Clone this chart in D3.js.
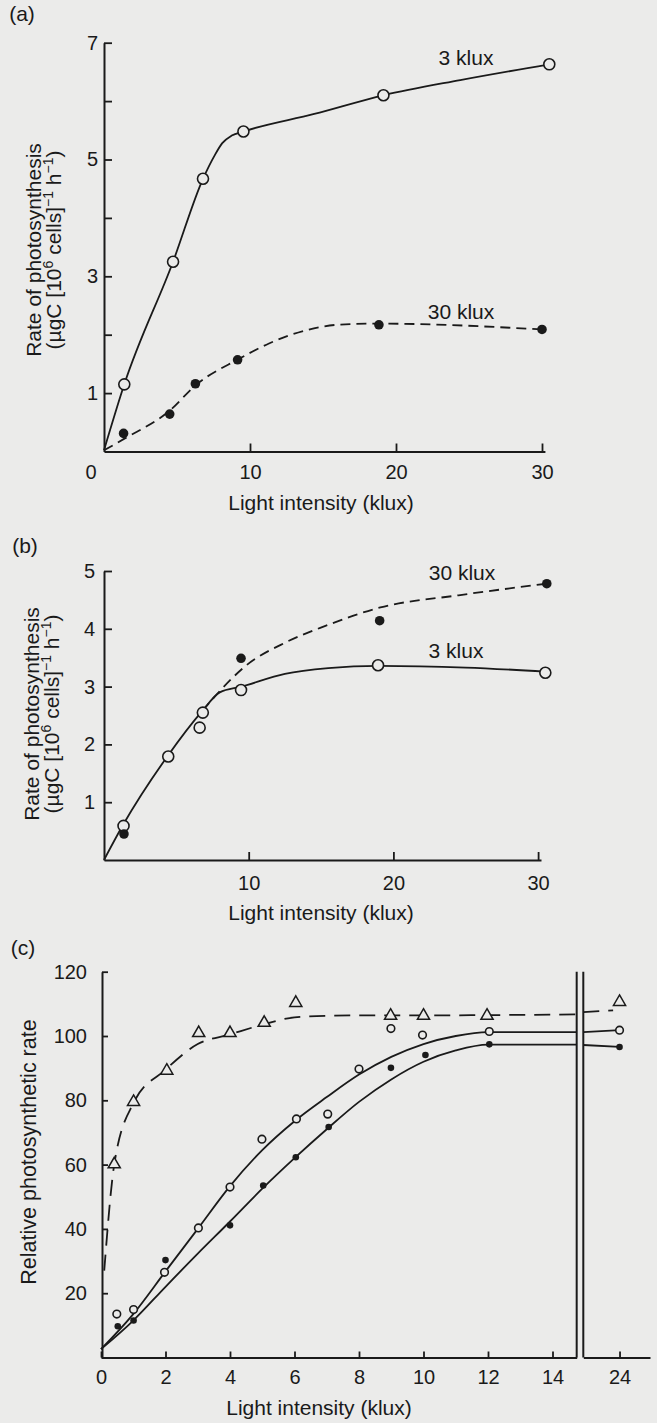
<!DOCTYPE html>
<html>
<head>
<meta charset="utf-8">
<script src="https://cdn.jsdelivr.net/npm/d3@7"></script>
<style>
  body { margin: 0; background: #ebebea; }
  text { font-family: "Liberation Sans", Arial, sans-serif; fill: #1a1a1a; }
</style>
</head>
<body>
<svg id="graph" width="657" height="1423"></svg>
<script>
/*******************************************************************************************/
// Data

// (a) rate of photosynthesis vs light, cells grown at 3 klux and 30 klux
var a_open_x = [1.39, 4.73, 6.78, 9.55, 19.14, 30.5];
var a_open_y = [1.15, 3.25, 4.67, 5.48, 6.10, 6.63];
var a_fill_x = [1.34, 4.50, 6.26, 9.15, 18.83, 30.0];
var a_fill_y = [0.31, 0.64, 1.16, 1.57, 2.17, 2.09];
var a_fit3_x = [0, 1.39, 4.73, 6.78, 7.6, 8.1, 8.75, 9.55, 14.4, 19.14, 24.4, 30.5];
var a_fit3_y = [0.02, 1.15, 3.25, 4.67, 5.08, 5.28, 5.41, 5.48, 5.78, 6.10, 6.36, 6.63];
var a_fit30_x = [0, 1.4, 4.5, 6.3, 9.2, 11.3, 13.9, 16, 18.8, 30];
var a_fit30_y = [0.02, 0.22, 0.70, 1.14, 1.58, 1.85, 2.08, 2.17, 2.19, 2.09];
var a_yticks = [1, 2, 3, 4, 5, 6, 7], a_ylabels = [1, 3, 5, 7];
var a_xticks = [10, 20, 30];

// (b)
var b_open_x = [1.35, 4.44, 6.61, 6.83, 9.47, 18.94, 30.5];
var b_open_y = [0.59, 1.79, 2.29, 2.55, 2.94, 3.37, 3.24];
var b_fill_x = [1.38, 9.47, 19.05, 30.6];
var b_fill_y = [0.45, 3.49, 4.14, 4.78];
var b_fit3_x = [0, 1.3, 4.4, 6.8, 8.0, 9.5, 12.5, 15.5, 19, 25, 30.5];
var b_fit3_y = [0, 0.6, 1.8, 2.58, 2.9, 3.0, 3.22, 3.32, 3.36, 3.33, 3.26];
var b_fit30_x = [6.8, 8.1, 9.7, 12.6, 15.3, 19.1, 24.5, 30.6];
var b_fit30_y = [2.58, 2.95, 3.34, 3.77, 4.05, 4.37, 4.58, 4.78];
var b_yticks = [1, 2, 3, 4, 5];
var b_xticks = [10, 20, 30];

// (c) relative photosynthetic rate, axis broken between 14 and 24 klux
var c_tri_x = [0.41, 1.01, 2.04, 3.03, 4.0, 5.06, 6.04, 8.98, 10.0, 11.97, 24];
var c_tri_y = [60.1, 79.5, 89.2, 100.9, 100.9, 104.1, 110.3, 106.3, 106.3, 106.3, 110.6];
var c_open_x = [0.49, 1.01, 1.97, 3.02, 4.0, 4.99, 6.06, 7.03, 8.0, 8.99, 9.97, 12.04, 24];
var c_open_y = [13.5, 14.9, 26.5, 40.3, 53.0, 67.9, 74.2, 75.7, 89.7, 102.3, 100.3, 101.4, 101.8];
var c_fill_x = [0.52, 1.01, 2.0, 4.0, 5.03, 6.04, 7.06, 8.99, 10.06, 12.04, 24];
var c_fill_y = [9.7, 11.5, 30.3, 41.1, 53.5, 62.3, 71.7, 90.1, 94.1, 97.4, 96.6];
var c_fitT_x = [0.1, 0.41, 1.0, 2.0, 3.0, 4.0, 5.0, 6.0, 7.0, 8, 10, 12, 14.75];
var c_fitT_y = [27, 60, 79, 89.5, 97.5, 100.5, 103.5, 105.8, 106.3, 106.4, 106.4, 106.5, 106.7];
var c_fitO_x = [0, 1, 2, 3, 4, 5, 6, 7, 8, 9, 10, 11, 12, 14.75];
var c_fitO_y = [2.6, 13.5, 26.8, 40, 53.3, 64.5, 73.5, 81, 88, 93.5, 97.5, 100, 101.2, 101.2];
var c_fitF_x = [0, 1, 2, 3, 4, 5, 6, 7, 8, 9, 10, 11, 12, 14.75];
var c_fitF_y = [2.6, 11.5, 22, 32.3, 42.3, 52.5, 62, 71, 79.5, 86.5, 92, 95.5, 97.3, 97.3];
var c_fitT_rx = [22.87, 23.8], c_fitT_ry = [107.4, 108];
var c_fitO_rx = [22.87, 24], c_fitO_ry = [101.2, 101.8];
var c_fitF_rx = [22.87, 24], c_fitF_ry = [97.2, 96.6];
var c_yticks = [20, 40, 60, 80, 100, 120];
var c_xticks = [0, 2, 4, 6, 8, 10, 12, 14], c_xticks_r = [24];

/*******************************************************************************************/

var ink = '#1a1a1a', paper = '#ebebea', font = '"Liberation Sans", Arial, sans-serif';
var svg = d3.select('#graph');

function styleAxis(g){
  g.attr('font-size', 20).attr('font-family', font).style('color', ink);
  g.select('.domain').attr('stroke-width', 2);
  g.selectAll('.tick line').attr('stroke-width', 1.8);
  g.selectAll('.tick text').attr('fill', ink);
}

function yAxis(scale, x, ticks, labels, pad, size){
  var g = svg.append('g').attr('transform', 'translate(' +x+ ',0)')
    .call(d3.axisLeft(scale).tickValues(ticks).tickSize(-size).tickSizeOuter(0).tickPadding(pad)
      .tickFormat(function(d){ return labels.indexOf(d) >= 0 ? d : ''; }));
  styleAxis(g);
}

function xAxis(scale, y, ticks, pad, size){
  var g = svg.append('g').attr('transform', 'translate(0,' +y+ ')')
    .call(d3.axisBottom(scale).tickValues(ticks).tickSize(-size).tickSizeOuter(0).tickPadding(pad)
      .tickFormat(d3.format('d')));
  styleAxis(g);
}

function fit(xs, ys, sx, sy, dash, width){
  var line = d3.line().x(function(d){ return sx(d[0]); }).y(function(d){ return sy(d[1]); }).curve(d3.curveMonotoneX);
  svg.append('path').attr('d', line(d3.zip(xs, ys)))
    .attr('fill', 'none').attr('stroke', ink).attr('stroke-width', width || 1.8)
    .attr('stroke-dasharray', dash || null);
}

function dots(xs, ys, sx, sy, r, open){
  svg.append('g').selectAll('circle').data(d3.zip(xs, ys)).join('circle')
    .attr('cx', function(d){ return sx(d[0]); }).attr('cy', function(d){ return sy(d[1]); }).attr('r', r)
    .attr('fill', open ? paper : ink).attr('stroke', ink).attr('stroke-width', open ? 1.6 : 0);
}

function label(x, y, str, size, anchor){
  return svg.append('text').attr('x', x).attr('y', y).attr('font-size', size || 21)
    .attr('text-anchor', anchor || 'middle').text(str);
}

function rateTitle(cx, cy){
  var t = svg.append('text').attr('transform', 'translate(' +cx+ ',' +cy+ ') rotate(-90)')
    .attr('text-anchor', 'middle').attr('font-size', 21);
  t.append('tspan').attr('x', 0).attr('y', 0).text('Rate of photosynthesis');
  var l2 = t.append('tspan').attr('x', 0).attr('y', 20);
  var parts = [['(µgC [10', 0], ['6', 1], [' cells]', 0], ['−1', 1], [' h', 0], ['−1', 1], [')', 0]];
  parts.forEach(function(p, i){
    var prev = i > 0 ? parts[i-1][1] : 0;
    var dy = p[1] && !prev ? -8 : (!p[1] && prev ? 8 : 0);
    l2.append('tspan').attr('dy', dy).attr('font-size', p[1] ? 14 : 21).text(p[0]);
  });
}

/*******************************************************************************************/
// (a)

var xa = d3.scaleLinear().domain([0, 30.2]).range([104, 104 + 30.2*14.6]);
var ya = d3.scaleLinear().domain([0, 7]).range([451.5, 42.7]);

yAxis(ya, 104, a_yticks, a_ylabels, 6, 8);
xAxis(xa, 451.5, a_xticks, 13, 8);
label(91, 479, '0', 20);

fit(a_fit3_x, a_fit3_y, xa, ya);
fit(a_fit30_x, a_fit30_y, xa, ya, '10,6');
dots(a_open_x, a_open_y, xa, ya, 5.5, true);
dots(a_fill_x, a_fill_y, xa, ya, 4.8, false);

label(466, 65, '3 klux');
label(461, 319, '30 klux');
label(22, 21, '(a)', 21, 'middle');
rateTitle(41, 250);
label(321, 510, 'Light intensity (klux)');

/*******************************************************************************************/
// (b)

var xb = d3.scaleLinear().domain([0, 30.2]).range([104, 104 + 30.2*14.47]);
var yb = d3.scaleLinear().domain([0, 5]).range([860, 571]);

yAxis(yb, 104, b_yticks, b_yticks, 9, 8);
xAxis(xb, 860, b_xticks, 16, 8);

fit(b_fit3_x, b_fit3_y, xb, yb);
fit(b_fit30_x, b_fit30_y, xb, yb, '10,6');
dots(b_open_x, b_open_y, xb, yb, 5.5, true);
dots(b_fill_x, b_fill_y, xb, yb, 4.8, false);

label(462, 580, '30 klux');
label(456, 658, '3 klux');
label(25, 553, '(b)', 21, 'middle');
rateTitle(39, 714);
label(321, 920, 'Light intensity (klux)');

/*******************************************************************************************/
// (c)

var xcL = d3.scaleLinear().domain([0, 14.75]).range([101, 101 + 14.75*32.25]);
var xcR = d3.scaleLinear().domain([22.87, 24.95]).range([583.3, 650]);
var yc = d3.scaleLinear().domain([0, 120]).range([1357.5, 971.7]);

yAxis(yc, 102, c_yticks, c_yticks, 15, 6);
xAxis(xcL, 1357.5, c_xticks, 12, 6);
xAxis(xcR, 1357.5, c_xticks_r, 12, 6);
[xcL(14.75), xcR(22.87)].forEach(function(x){
  svg.append('line').attr('x1', x).attr('x2', x).attr('y1', yc(0)).attr('y2', yc(120))
    .attr('stroke', ink).attr('stroke-width', 2);
});

fit(c_fitT_x, c_fitT_y, xcL, yc, '16,9');
fit(c_fitT_rx, c_fitT_ry, xcR, yc, '16,9');
fit(c_fitO_x, c_fitO_y, xcL, yc);
fit(c_fitO_rx, c_fitO_ry, xcR, yc);
fit(c_fitF_x, c_fitF_y, xcL, yc);
fit(c_fitF_rx, c_fitF_ry, xcR, yc);

function cx(d){ return d < 20 ? xcL(d) : xcR(d); }
svg.append('g').selectAll('path').data(d3.zip(c_tri_x, c_tri_y)).join('path')
  .attr('d', d3.symbol(d3.symbolTriangle, 64))
  .attr('transform', function(d){ return 'translate(' +cx(d[0])+ ',' +yc(d[1])+ ')'; })
  .attr('fill', paper).attr('stroke', ink).attr('stroke-width', 1.5);
dots(c_open_x, c_open_y, cx, yc, 3.8, true);
dots(c_fill_x, c_fill_y, cx, yc, 3.3, false);

label(23, 955, '(c)', 21, 'middle');
svg.append('text').attr('transform', 'translate(36,1152) rotate(-90)')
  .attr('text-anchor', 'middle').attr('font-size', 21.5).text('Relative photosynthetic rate');
label(319, 1415, 'Light intensity (klux)');
</script>
</body>
</html>
